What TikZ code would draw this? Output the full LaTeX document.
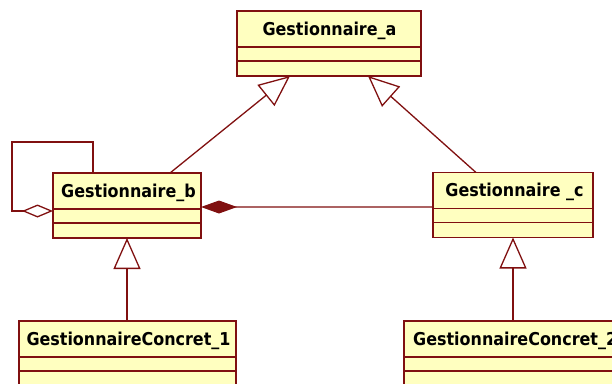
\documentclass[tikz,border=0pt]{standalone}
\usepackage{fontspec}
\newfontfamily\titlefont{DejaVu Sans Condensed}
\usetikzlibrary{arrows.meta,calc}
\definecolor{umlfill}{RGB}{255,255,192}
\definecolor{umlline}{RGB}{128,16,16}
\begin{document}
\begin{tikzpicture}[x=1bp,y=-1bp,
  umlbox/.style={draw=umlline, fill=umlfill, line width=1.3bp, minimum height=65bp, inner sep=0pt, outer sep=0pt},
  title/.style={font=\titlefont\bfseries\fontsize{17.8}{20}\selectfont, inner sep=0pt, anchor=base},
  sepline/.style={draw=umlline, line width=1.3bp},
  conn/.style={draw=umlline, line width=1.3bp},
  gen/.style={conn, -{Triangle[open, length=31bp, width=27bp]}},
  comp/.style={conn, -{Diamond[length=36bp, width=13bp, fill=umlline]}},
  aggr/.style={conn, -{Diamond[open, length=31bp, width=13bp]}}
]
\useasboundingbox (0,0) rectangle (612,383);
\clip (0,0) rectangle (612,383);

% classes
\node[umlbox, minimum width=184bp] (a) at (329,43.5) {};
\node[umlbox, minimum width=148bp] (b) at (127,205.5) {};
\node[umlbox, minimum width=160bp] (c) at (513,205) {};
\node[umlbox, minimum width=217bp] (k1) at (127.5,353.5) {};
\node[umlbox, minimum width=217bp] (k2) at (512.5,353.5) {};

\foreach \n in {a,b,c,k1,k2}{
  \draw[sepline] ($(\n.north west)+(0,36)$) -- ($(\n.north east)+(0,36)$);
  \draw[sepline] ($(\n.north west)+(0,50)$) -- ($(\n.north east)+(0,50)$);
}

\node[title] (ta) at ($(a.north)+(0.5,24)$) {Gestionnaire\_a};
\node[title] (tb) at ($(b.north)+(1.5,24)$) {Gestionnaire\_b};
\node[title] (tc) at ($(c.north)+(1.5,24)$) {Gestionnaire \_c};
\node[title] (tk1) at ($(k1.north)+(1,24)$) {GestionnaireConcret\_1};
\node[title, anchor=base west] (tk2) at ($(k2.north west)+(9,24)$) {GestionnaireConcret\_2};

% connectors
\draw[gen] ([xshift=43bp]b.north) -- ([xshift=-39bp]a.south);
\draw[gen] ([xshift=-37bp]c.north) -- ([xshift=39bp]a.south);
\draw[gen] (b.south |- k1.north) -- (b.south);
\draw[gen] (c.south |- k2.north) -- (c.south);
\draw[comp] ([yshift=-2bp]c.west) -- ([yshift=-1.5bp]b.east);
\coordinate (lp) at (12,142);
\draw[aggr] ([xshift=40bp]b.north west) |- (lp) |- ([yshift=-5.5bp]b.west);
\end{tikzpicture}
\end{document}
